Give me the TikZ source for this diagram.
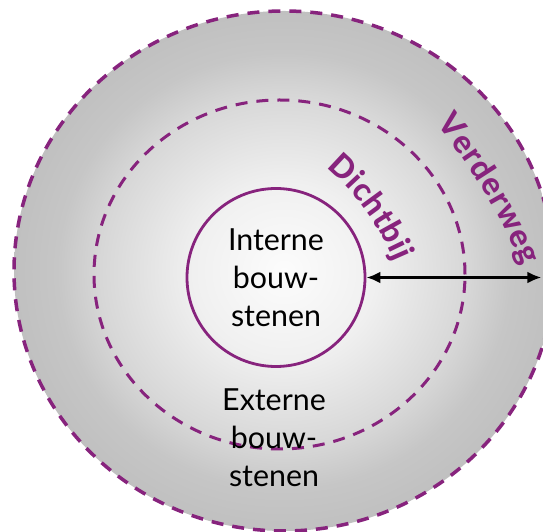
\documentclass[tikz,border=0pt]{standalone}
\usepackage{fontspec}
\setmainfont{Lato}
\newfontfamily\heavyfont{Lato Heavy}
\usetikzlibrary{arrows.meta,decorations.text}
\definecolor{mypurple}{RGB}{135,35,125}
\definecolor{g0}{RGB}{252,252,252}
\definecolor{g1}{RGB}{240,240,240}
\definecolor{g2}{RGB}{215,215,215}
\definecolor{g3}{RGB}{198,198,198}
\definecolor{g4}{RGB}{192,192,192}
\pgfdeclareradialshading{bgshade}{\pgfpoint{0bp}{0bp}}{color(0bp)=(g0); color(8.4bp)=(g1); color(17bp)=(g2); color(21bp)=(g3); color(25bp)=(g4); color(50bp)=(g4)}
\tikzset{
  dashring/.style={draw=mypurple, dash pattern=on 12bp off 9bp},
  bodytext/.style={align=center, inner sep=0pt, font=\fontsize{30.5}{38}\selectfont},
  arctext/.style={decorate, decoration={text along path, text={|\heavyfont\fontsize{32}{32}\selectfont|#1}, text color=mypurple, text align=fit to path}},
  arr/.style={line width=3.5bp, {Latex[length=14bp,width=12bp]}-{Latex[length=14bp,width=12bp]}}
}
\begin{document}
\begin{tikzpicture}[x=1bp,y=1bp]
\useasboundingbox (0,0) rectangle (543,532);
\clip (0,0) rectangle (543,532);
\fill[white] (0,0) rectangle (543,532);
\shade[shading=bgshade] (284,261) ellipse [x radius=270, y radius=260];
\draw[dashring, line width=3.5bp] (284,261) ellipse [x radius=270, y radius=260];
\draw[dashring, line width=3bp] (279.5,257.5) ellipse [x radius=185.5, y radius=174.5];
\node[draw=mypurple, line width=2.8bp, circle, minimum size=178bp, bodytext] (inner) at (276,254.5) {Interne\\bouw-\\stenen};
\node[bodytext] (outer) at (274,94) {Externe\\bouw-\\stenen};
\path[arctext=Dichtbij] (164.5,173.1) ++(49.8:250) arc[start angle=49.8, end angle=22.8, radius=250];
\path[arctext=Verderweg] (-30.4,31.5) ++(38.9:600) arc[start angle=38.9, end angle=23.0, radius=600];
\path (inner.east) ++(175,0) coordinate (rightend);
\draw[arr] (inner.east) -- (rightend);
\end{tikzpicture}
\end{document}
